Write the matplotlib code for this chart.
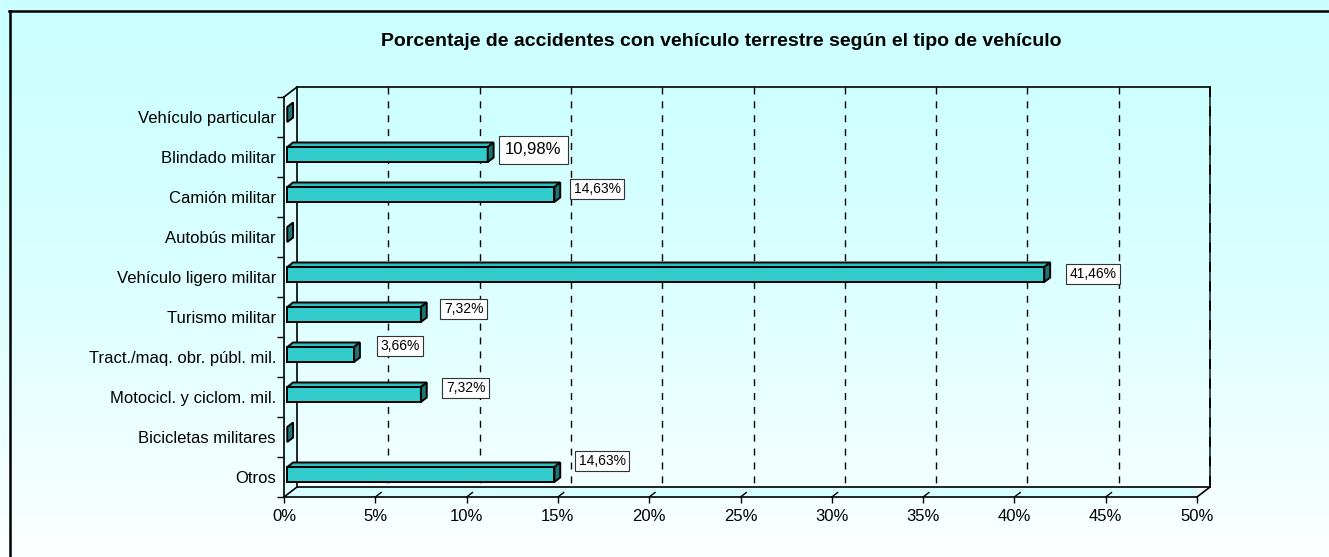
import numpy as np
import matplotlib.pyplot as plt
from matplotlib.patches import Polygon
from matplotlib.lines import Line2D

plt.rcParams['font.family'] = ['Liberation Sans', 'DejaVu Sans']

# Datos del grafico
categorias = ['Vehículo particular', 'Blindado militar', 'Camión militar',
              'Autobús militar', 'Vehículo ligero militar', 'Turismo militar',
              'Tract./maq. obr. públ. mil.', 'Motocicl. y ciclom. mil.',
              'Bicicletas militares', 'Otros']
porcentajes = [0.0, 10.98, 14.63, 0.0, 41.46, 7.32, 3.66, 7.32, 0.0, 14.63]
etiquetas = ['', '10,98%', '14,63%', '', '41,46%', '7,32%', '3,66%', '7,32%', '', '14,63%']
ticks_x = [0, 5, 10, 15, 20, 25, 30, 35, 40, 45, 50]
ticks_x_txt = ['0%', '5%', '10%', '15%', '20%', '25%', '30%', '35%', '40%', '45%', '50%']
titulo = 'Porcentaje de accidentes con vehículo terrestre según el tipo de vehículo'

# desplazamiento (px), tamano de letra y margen de cada etiqueta respecto al final de la barra
pos_etiq = [None, (49, 7, 12, 0.4), (46, 8, 10, 0.25), None, (52, 3, 10, 0.25),
            (46, 8, 10, 0.25), (49, 11, 10, 0.25), (48, 9, 10, 0.25), None,
            (51, 16, 10, 0.25)]

W, H = 1329, 557
fig = plt.figure(figsize=(W / 100, H / 100), dpi=100)

# fondo degradado
bg = fig.add_axes([0, 0, 1, 1], zorder=-10)
t = (np.linspace(0, 1, H) ** 1.6)[:, None, None]
c0 = np.array([0.80, 1.0, 1.0])
c1 = np.array([0.99, 1.0, 1.0])
grad = c0 * (1 - t) + c1 * t
bg.imshow(np.repeat(grad, 4, axis=1), aspect='auto', extent=[0, 1, 0, 1])
bg.axis('off')

# plano frontal del grafico
ax = fig.add_axes([284 / W, 60 / H, 913 / W, 400 / H])
ax.set_xlim(0, 50)
ax.set_ylim(9.5, -0.5)
ax.patch.set_alpha(0)

px_x = 913 / 50.0
px_y = 40.0
DX = 13 / px_x      # profundidad en unidades de datos
DY = -10 / px_y

for s in ['top', 'right']:
    ax.spines[s].set_visible(False)
for s in ['left', 'bottom']:
    ax.spines[s].set_linewidth(1.2)

ax.set_xticks(ticks_x)
ax.set_xticklabels(ticks_x_txt, fontsize=12)
ax.tick_params(axis='x', length=4.3, width=1, pad=4)
ax.set_yticks(range(len(categorias)))
ax.set_yticklabels(categorias, fontsize=12)
ax.tick_params(axis='y', length=0, pad=5.8)
ax.set_yticks(np.arange(-0.5, 10, 1), minor=True)
ax.tick_params(axis='y', which='minor', length=5, width=1)

y0, y1 = -0.5, 9.5

# pared izquierda y suelo
ax.add_patch(Polygon([(0, y0), (DX, y0 + DY), (DX, y1 + DY), (0, y1)],
                     closed=True, facecolor='#E2FFFF', edgecolor='none', zorder=0.5))
ax.add_patch(Polygon([(0, y1), (50, y1), (50 + DX, y1 + DY), (DX, y1 + DY)],
                     closed=True, facecolor='#D8FFFF', edgecolor='none', zorder=0.5))

# lineas de division
for x in ticks_x[1:-1]:
    ax.plot([x + DX, x + DX], [y0 + DY, y1 + DY], color='black', lw=1,
            ls=(0, (5, 5)), zorder=1, clip_on=False)
    ax.plot([x, x + 0.45 * DX], [y1, y1 + 0.45 * DY], color='black', lw=1,
            zorder=1, clip_on=False)
ax.plot([50 + DX, 50 + DX], [y0 + DY, y1 + DY], color='#3a4a4a', lw=1.4,
        zorder=1, clip_on=False)
ax.plot([50 + DX, 50 + DX], [y0 + DY, y1 + DY], color='black', lw=1.4,
        ls=(0, (5, 5)), zorder=1, clip_on=False)

# bordes del cubo
bordes = [([DX, 50 + DX], [y0 + DY, y0 + DY]),
          ([DX, DX], [y0 + DY, y1 + DY]),
          ([DX, 50 + DX], [y1 + DY, y1 + DY]),
          ([0, DX], [y0, y0 + DY]),
          ([0, DX], [y1, y1 + DY]),
          ([50, 50 + DX], [y1, y1 + DY])]
for xs, ys in bordes:
    ax.plot(xs, ys, color='black', lw=1.2, zorder=1.5, clip_on=False)

# barras 3D
h = 0.375
d1, d2 = 0.25, 0.7
e = d2 - d1
for i, v in enumerate(porcentajes):
    xa = d1 * DX
    xb = v + d1 * DX
    yt = i - h / 2 + d1 * DY
    yb = i + h / 2 + d1 * DY
    if v > 0:
        ax.add_patch(Polygon([(xa, yt), (xb, yt), (xb, yb), (xa, yb)], closed=True,
                             facecolor='#33CCCC', edgecolor='black', lw=1.4, zorder=3))
        ax.add_patch(Polygon([(xa, yt), (xb, yt), (xb + e * DX, yt + e * DY),
                              (xa + e * DX, yt + e * DY)], closed=True,
                             facecolor='#2EC0C0', edgecolor='black', lw=1.4, zorder=3))
    ax.add_patch(Polygon([(xb, yt), (xb + e * DX, yt + e * DY),
                          (xb + e * DX, yb + e * DY), (xb, yb)], closed=True,
                         facecolor='#1F7373', edgecolor='black', lw=1.4, zorder=3))

# etiquetas de datos
for i, (v, lab) in enumerate(zip(porcentajes, etiquetas)):
    if not lab:
        continue
    dx, dy, fs, pad = pos_etiq[i]
    ax.annotate(lab, xy=(v, i), xytext=(dx, dy), textcoords='offset pixels',
                ha='center', va='center', fontsize=fs, zorder=4,
                bbox=dict(boxstyle='square,pad=%s' % pad, facecolor='white',
                          edgecolor='#333333', lw=0.8))

fig.text(721 / W, 1 - 42 / H, titulo, ha='center', va='center',
         fontsize=14, fontweight='bold')

# marco exterior
fig.add_artist(Line2D([8.5 / W, 1], [1 - 10.5 / H, 1 - 10.5 / H],
                      transform=fig.transFigure, color='black', lw=1.8))
fig.add_artist(Line2D([9.5 / W, 9.5 / W], [0, 1 - 10.5 / H],
                      transform=fig.transFigure, color='black', lw=1.8))

fig.savefig('out.png', dpi=100)
